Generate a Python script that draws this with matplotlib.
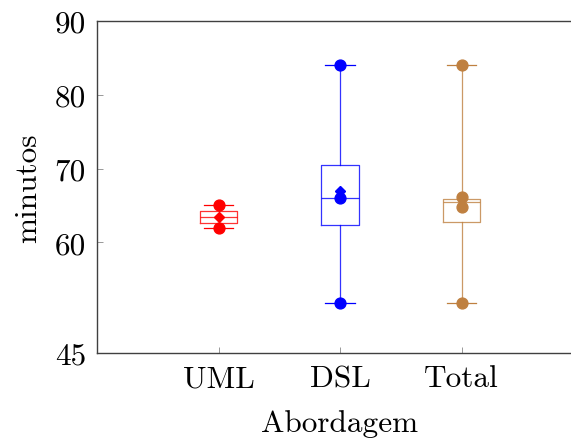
import matplotlib
matplotlib.use("Agg")
import matplotlib.pyplot as plt

plt.rcParams['font.family'] = 'serif'
plt.rcParams['font.serif'] = ['cmr10', 'DejaVu Serif']
plt.rcParams['mathtext.fontset'] = 'cm'
plt.rcParams['axes.formatter.use_mathtext'] = True

categories = ["UML", "DSL", "Total"]
colors = ["#ff0000", "#0000ff", "#bf8040"]
whislo = [62.0, 51.8, 51.8]
q1 = [62.6, 62.4, 62.7]
med = [63.4, 66.0, 65.5]
q3 = [64.25, 70.5, 65.9]
whishi = [65.0, 84.0, 84.0]
means = [63.4, 67.0, None]
points = [[65.0, 62.0], [84.0, 66.0, 51.8], [84.0, 66.1, 64.8, 51.8]]
yticks = [45, 60, 70, 80, 90]

fig = plt.figure(figsize=(5.71, 4.39), dpi=100)
ax = fig.add_axes([97/571, 85/439, 486/571, 332/439])

for i, cat in enumerate(categories):
    pos = i + 1
    st = [dict(label=cat, whislo=whislo[i], q1=q1[i], med=med[i], q3=q3[i], whishi=whishi[i], fliers=[])]
    c = colors[i]
    ax.bxp(st, positions=[pos], widths=0.305, capwidths=0.243, showfliers=False,
           boxprops=dict(color=c, linewidth=0.9, alpha=0.8),
           whiskerprops=dict(color=c, linewidth=0.9, alpha=0.8),
           capprops=dict(color=c, linewidth=0.9),
           medianprops=dict(color=c, linewidth=0.9, alpha=0.8),
           manage_ticks=False)
    ax.plot([pos] * len(points[i]), points[i], 'o', color=c, markersize=7.8, zorder=5)
    if means[i] is not None:
        ax.plot([pos], [means[i]], 'D', color=c, markersize=5.5, zorder=4)

ax.set_xlim(0, 4)
ax.set_ylim(45, 90)
ax.set_xticks([1, 2, 3])
ax.set_xticklabels(categories)
ax.set_yticks(yticks)
ax.set_yticklabels([str(t) for t in yticks])
ax.tick_params(direction='in', length=4, width=0.6, labelsize=22.5, color='#888888', pad=8,
               right=True, top=False)
for s in ax.spines.values():
    s.set_linewidth(1.0)
    s.set_color('#404040')
ax.set_xlabel("Abordagem", fontsize=22.5, labelpad=12)
ax.set_ylabel("minutos", fontsize=22.5, labelpad=9)

fig.savefig("out.png", dpi=100)
